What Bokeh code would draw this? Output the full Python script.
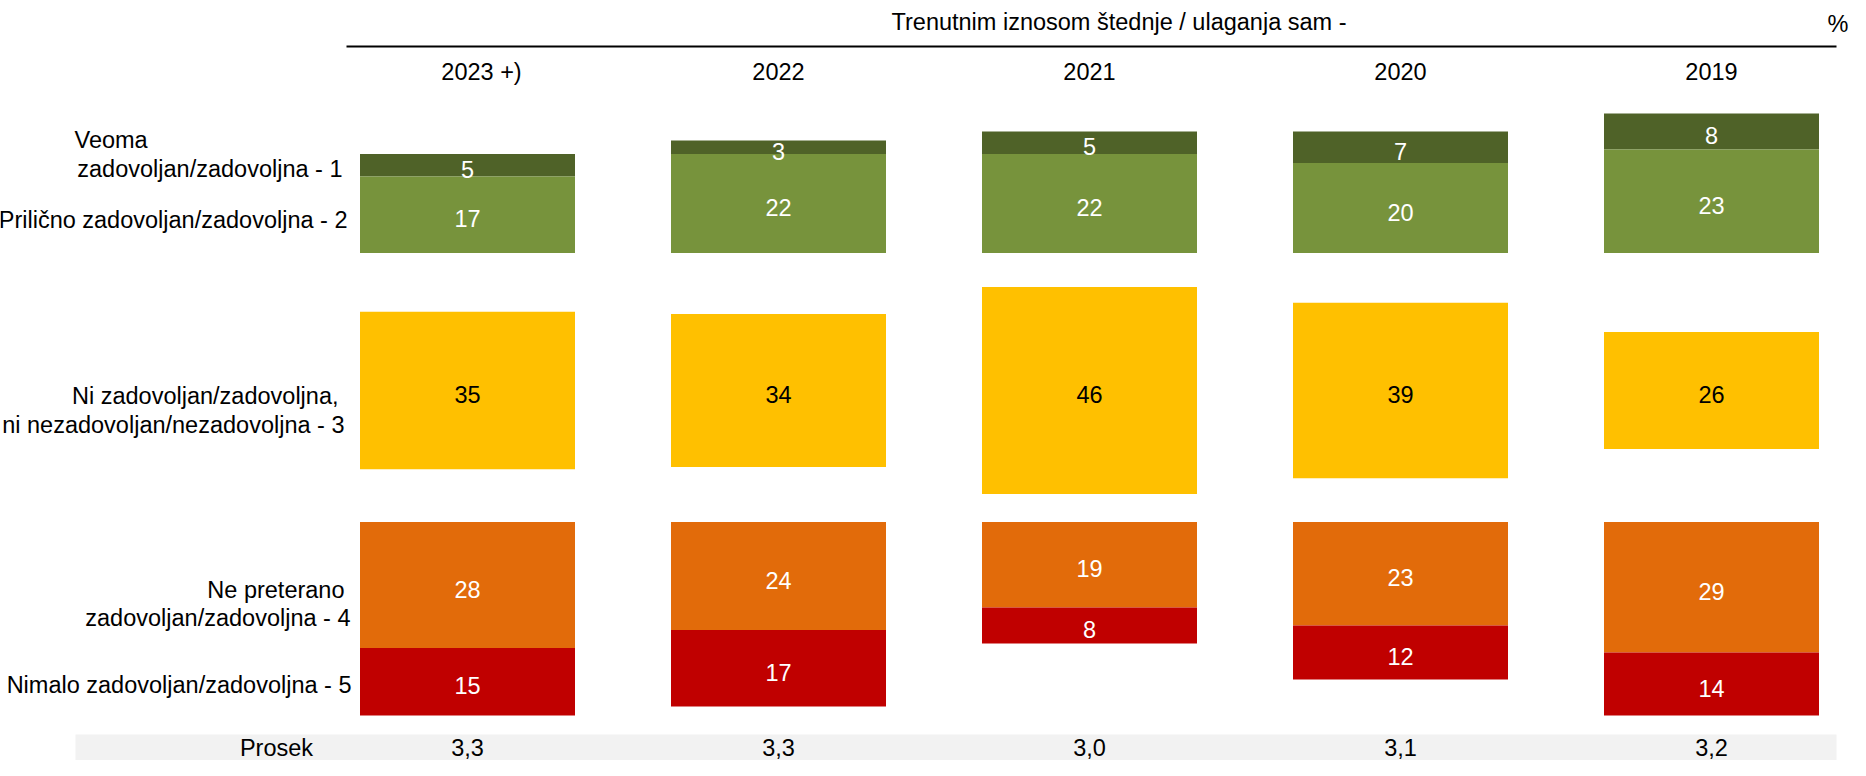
from bokeh.plotting import figure
from bokeh.models import Range1d, ColumnDataSource
from bokeh.embed import file_html
from bokeh.resources import INLINE
from bokeh.core.properties import value

# ---------------- data ----------------
years = ["2023 +)", "2022", "2021", "2020", "2019"]
very_satisfied = [5, 3, 5, 7, 8]            # Veoma zadovoljan/zadovoljna - 1
fairly_satisfied = [17, 22, 22, 20, 23]     # Prilično zadovoljan/zadovoljna - 2
neither = [35, 34, 46, 39, 26]              # Ni ..., ni ... - 3
not_very = [28, 24, 19, 23, 29]             # Ne preterano ... - 4
not_at_all = [15, 17, 8, 12, 14]            # Nimalo ... - 5
averages = ["3,3", "3,3", "3,0", "3,1", "3,2"]
title_text = "Trenutnim iznosom štednje / ulaganja sam -"
unit_text = "%"
avg_label = "Prosek"
row_label_lines = [
    "Veoma",
    "zadovoljan/zadovoljna - 1",
    "Prilično zadovoljan/zadovoljna - 2",
    "Ni zadovoljan/zadovoljna,",
    "ni nezadovoljan/nezadovoljna - 3",
    "Ne preterano",
    "zadovoljan/zadovoljna - 4",
    "Nimalo zadovoljan/zadovoljna - 5",
]

# ---------------- layout / style ----------------
W, H = 1850, 760
PX = 4.5            # screen px per percentage point
COL = 311.0         # screen px between column centres
FIRST = 467.0       # screen x of the first column centre
BAR_W = 215.0 / COL
FONT = value("Liberation Sans")
FS = "23.5px"
C_DARK, C_LIGHT = "#4F6228", "#77933C"
C_YEL, C_ORA, C_RED = "#FFC000", "#E26B0A", "#C00000"

x0 = -FIRST / COL
def ux(px):
    return x0 + px / COL
def uy(py):
    return py / PX

p = figure(width=W, height=H, output_backend="svg", toolbar_location=None,
           x_range=Range1d(x0, x0 + W / COL), y_range=Range1d(H / PX, 0),
           x_axis_type=None, y_axis_type=None, min_border=0)
p.grid.visible = False
p.outline_line_color = None
p.background_fill_color = "white"
p.border_fill_color = "white"

idx = list(range(len(years)))

# group anchors (percentage-point units measured from the top)
GREEN_BASE = uy(252.5)
YEL_MID = uy(390.0)
RED_TOP = uy(521.5)

light_top = [GREEN_BASE - f for f in fairly_satisfied]
dark_top = [lt - v for lt, v in zip(light_top, very_satisfied)]
yel_top = [YEL_MID - n / 2 for n in neither]
yel_bot = [YEL_MID + n / 2 for n in neither]
ora_bot = [RED_TOP + v for v in not_very]
red_bot = [ob + v for ob, v in zip(ora_bot, not_at_all)]

segments = [
    (dark_top, light_top, very_satisfied, C_DARK, "white"),
    (light_top, [GREEN_BASE] * 5, fairly_satisfied, C_LIGHT, "white"),
    (yel_top, yel_bot, neither, C_YEL, "black"),
    ([RED_TOP] * 5, ora_bot, not_very, C_ORA, "white"),
    (ora_bot, red_bot, not_at_all, C_RED, "white"),
]

# gray "Prosek" band
p.quad(left=[ux(75)], right=[ux(1836)], top=[uy(734)], bottom=[H / PX],
       fill_color="#F2F2F2", line_color=None)

sources = []
for tops, bots, vals, col, tcol in segments:
    src = ColumnDataSource(dict(x=idx, top=tops, bottom=bots,
                                mid=[(a + b) / 2 for a, b in zip(tops, bots)],
                                lab=[str(v) for v in vals]))
    sources.append((src, tcol))
    p.vbar(x="x", width=BAR_W, top="top", bottom="bottom", source=src,
           fill_color=col, line_color=None)

# value labels drawn after all bars so none is hidden
for src, tcol in sources:
    p.text(x="x", y="mid", text="lab", source=src, text_align="center",
           text_baseline="middle", text_color=tcol, text_font=FONT,
           text_font_size=FS, y_offset=4)

# header
p.text(x=[ux(891)], y=[uy(21)], text=[title_text], text_align="left",
       text_baseline="middle", text_font=FONT, text_font_size=FS, text_color="black")
p.text(x=[ux(1848)], y=[uy(23)], text=[unit_text], text_align="right",
       text_baseline="middle", text_font=FONT, text_font_size=FS, text_color="black")
p.segment(x0=[ux(346)], x1=[ux(1836)], y0=[uy(46)], y1=[uy(46)],
          line_color="black", line_width=2)
p.text(x=idx, y=[uy(71)] * 5, text=years, x_offset=[14, 0, 0, 0, 0],
       text_align="center", text_baseline="middle", text_font=FONT,
       text_font_size=FS, text_color="black")

# row labels
lab_right = [None, 342, 347, 338, 344, 344, 350, 351]
lab_y = [139, 168, 219, 395, 424, 589, 617, 684]
for t, r, yy in zip(row_label_lines, lab_right, lab_y):
    if r is None:
        p.text(x=[ux(74)], y=[uy(yy)], text=[t], text_align="left",
               text_baseline="middle", text_font=FONT, text_font_size=FS,
               text_color="black")
    else:
        p.text(x=[ux(r)], y=[uy(yy)], text=[t], text_align="right",
               text_baseline="middle", text_font=FONT, text_font_size=FS,
               text_color="black")

# Prosek row
p.text(x=[ux(276)], y=[uy(747)], text=[avg_label], text_align="center",
       text_baseline="middle", text_font=FONT, text_font_size=FS, text_color="black")
p.text(x=idx, y=[uy(747)] * 5, text=averages, text_align="center",
       text_baseline="middle", text_font=FONT, text_font_size=FS, text_color="black")

open("out.html", "w").write(file_html(p, INLINE))
